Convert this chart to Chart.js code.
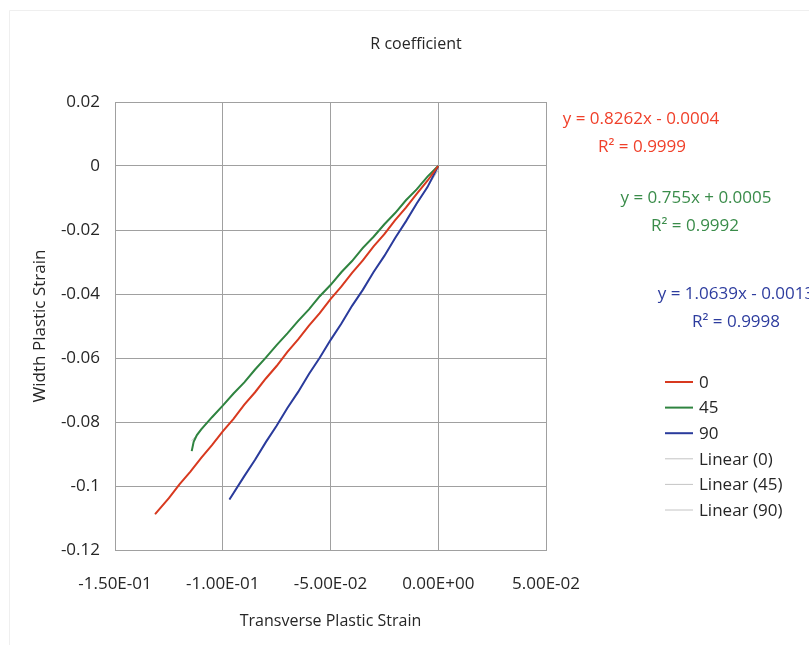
<!DOCTYPE html>
<html>
<head>
<meta charset="utf-8">
<script src="https://cdn.jsdelivr.net/npm/chart.js@4.4.1/dist/chart.umd.min.js"></script>
<style>
    html, body { margin: 0; padding: 0; background: #fff; }
    #wrap { position: relative; width: 809px; height: 645px; }
</style>
</head>
<body>
<div id="wrap"><canvas id="rChart" width="809" height="645"></canvas></div>
<script>
// Strain readings per test direction (transverse x, width y)
const series = ['0', '45', '90'];
const xs0 = [0, -0.005, -0.01, -0.015, -0.02, -0.025, -0.03, -0.035, -0.04, -0.045, -0.05, -0.055, -0.06, -0.065,
    -0.07, -0.075, -0.08, -0.085, -0.09, -0.095, -0.1, -0.105, -0.11, -0.115, -0.12, -0.125, -0.1314];
const ys0 = [0, -0.0046, -0.0087, -0.0130, -0.0169, -0.0213, -0.0251, -0.0295, -0.0334, -0.0377, -0.0416, -0.0460, -0.0499, -0.0542,
    -0.0581, -0.0625, -0.0664, -0.0707, -0.0746, -0.0790, -0.0829, -0.0872, -0.0912, -0.0955, -0.0994, -0.1038, -0.1088];
const xs45 = [0, -0.005, -0.01, -0.015, -0.02, -0.025, -0.03, -0.035, -0.04, -0.045, -0.05, -0.055, -0.06, -0.065,
    -0.07, -0.075, -0.08, -0.085, -0.09, -0.095, -0.1, -0.105, -0.11, -0.112, -0.1135, -0.1144];
const ys45 = [0, -0.0033, -0.0073, -0.0107, -0.0147, -0.0182, -0.0221, -0.0256, -0.0297, -0.0332, -0.0372, -0.0407, -0.0448, -0.0484,
    -0.0523, -0.0560, -0.0599, -0.0636, -0.0676, -0.0711, -0.0749, -0.0785, -0.0823, -0.0841, -0.0862, -0.0891];
const xs90 = [0, -0.005, -0.01, -0.015, -0.02, -0.025, -0.03, -0.035, -0.04, -0.045, -0.05, -0.055, -0.06, -0.065,
    -0.07, -0.075, -0.08, -0.085, -0.09, -0.0969];
const ys90 = [0, -0.0066, -0.0117, -0.0173, -0.0225, -0.0281, -0.0331, -0.0387, -0.0437, -0.0493, -0.0544, -0.0599, -0.0650, -0.0706,
    -0.0756, -0.0812, -0.0863, -0.0918, -0.0969, -0.1042];

// Linear fit coefficients as printed beside the plot
const slopes = [0.8262, 0.755, 1.0639];
const intercepts = [-0.0004, 0.0005, -0.0013];
const rSquared = [0.9999, 0.9992, 0.9998];

// Axis ticks
const xTickValues = [-0.15, -0.1, -0.05, 0, 0.05];
const xTickLabels = ['-1.50E-01', '-1.00E-01', '-5.00E-02', '0.00E+00', '5.00E-02'];
const yTickValues = [0.02, 0, -0.02, -0.04, -0.06, -0.08, -0.1, -0.12];
const yTickLabels = ['0.02', '0', '-0.02', '-0.04', '-0.06', '-0.08', '-0.1', '-0.12'];

const lineColors = ['#d8391f', '#2f8440', '#2a3b9c'];
const eqColors = ['#f0402a', '#3a8c4a', '#2d3c9e'];
const trendColor = '#c4c4c4';
const FONT = "'Open Sans', Lato, sans-serif";
const TEXT = '#262626';

const toPoints = (xs, ys) => xs.map((x, i) => ({ x, y: ys[i] }));
const allXs = [xs0, xs45, xs90];
const allYs = [ys0, ys45, ys90];

const dataSets = series.map((name, i) => ({
    label: name,
    data: toPoints(allXs[i], allYs[i]),
    borderColor: lineColors[i],
    borderWidth: 2,
    showLine: true,
    pointRadius: 0,
    tension: 0
}));

// Trend lines run across each series' own x range
const trendSets = series.map((name, i) => {
    const xMin = Math.min(...allXs[i]);
    const ends = [xMin, 0];
    return {
        label: 'Linear (' + name + ')',
        data: ends.map(x => ({ x, y: slopes[i] * x + intercepts[i] })),
        borderColor: trendColor,
        borderWidth: 1,
        showLine: true,
        pointRadius: 0
    };
});

function fmtEq(i) {
    const b = intercepts[i];
    const sign = b < 0 ? ' - ' : ' + ';
    return 'y = ' + slopes[i] + 'x' + sign + Math.abs(b).toFixed(4);
}

// Title, fit equations and legend drawn straight onto the canvas
const annotations = {
    id: 'annotations',
    afterDraw(chart) {
        const ctx = chart.ctx;
        ctx.save();
        ctx.textBaseline = 'middle';

        ctx.fillStyle = TEXT;
        ctx.font = '16px ' + FONT;
        ctx.textAlign = 'center';
        ctx.fillText('R coefficient', 416, 44);

        const eqPos = [[641, 119, 642, 147], [696, 198, 695, 226], [736, 294, 736, 322]];
        ctx.font = '17px ' + FONT;
        series.forEach((s, i) => {
            const p = eqPos[i];
            ctx.fillStyle = eqColors[i];
            ctx.fillText(fmtEq(i), p[0], p[1]);
            ctx.fillText('R\u00B2 = ' + rSquared[i].toFixed(4), p[2], p[3]);
        });

        const items = chart.data.datasets;
        ctx.textAlign = 'left';
        items.forEach((ds, i) => {
            const y = 382 + i * 25.6;
            ctx.strokeStyle = ds.borderColor;
            ctx.lineWidth = ds.borderWidth;
            ctx.beginPath();
            ctx.moveTo(665, y);
            ctx.lineTo(693, y);
            ctx.stroke();
            ctx.fillStyle = TEXT;
            ctx.fillText(ds.label, 699, y + 1);
        });

        // light outer frame
        ctx.strokeStyle = '#efefef';
        ctx.lineWidth = 1;
        ctx.beginPath();
        ctx.moveTo(9.5, 645);
        ctx.lineTo(9.5, 10.5);
        ctx.lineTo(809, 10.5);
        ctx.stroke();
        ctx.restore();
    }
};

const gridColor = '#a0a0a0';

new Chart(document.getElementById('rChart'), {
    type: 'scatter',
    data: { datasets: dataSets.concat(trendSets) },
    options: {
        responsive: false,
        animation: false,
        layout: { padding: { left: 22, right: 263, top: 102, bottom: 10 } },
        plugins: {
            legend: { display: false },
            tooltip: { enabled: false }
        },
        scales: {
            x: {
                type: 'linear',
                min: -0.15,
                max: 0.05,
                afterBuildTicks: axis => { axis.ticks = xTickValues.map(v => ({ value: v })); },
                afterFit: axis => { axis.height = 85; },
                grid: { color: gridColor, drawTicks: false },
                border: { color: gridColor },
                ticks: {
                    padding: 24,
                    color: TEXT,
                    font: { family: FONT, size: 17 },
                    maxRotation: 0,
                    callback: (v, i) => xTickLabels[i]
                },
                title: {
                    display: true,
                    text: 'Transverse Plastic Strain',
                    color: TEXT,
                    font: { family: FONT, size: 16 },
                    padding: { top: 0, bottom: 4 }
                }
            },
            y: {
                type: 'linear',
                min: -0.12,
                max: 0.02,
                afterBuildTicks: axis => { axis.ticks = yTickValues.map(v => ({ value: v })); },
                afterFit: axis => { axis.width = 93; },
                grid: { color: gridColor, drawTicks: false },
                border: { color: gridColor },
                ticks: {
                    padding: 15,
                    color: TEXT,
                    font: { family: FONT, size: 17 },
                    callback: (v, i) => yTickLabels[i]
                },
                title: {
                    display: true,
                    text: 'Width Plastic Strain',
                    color: TEXT,
                    font: { family: FONT, size: 17 },
                    padding: { top: 8, bottom: 0 }
                }
            }
        }
    },
    plugins: [annotations]
});
</script>
</body>
</html>
